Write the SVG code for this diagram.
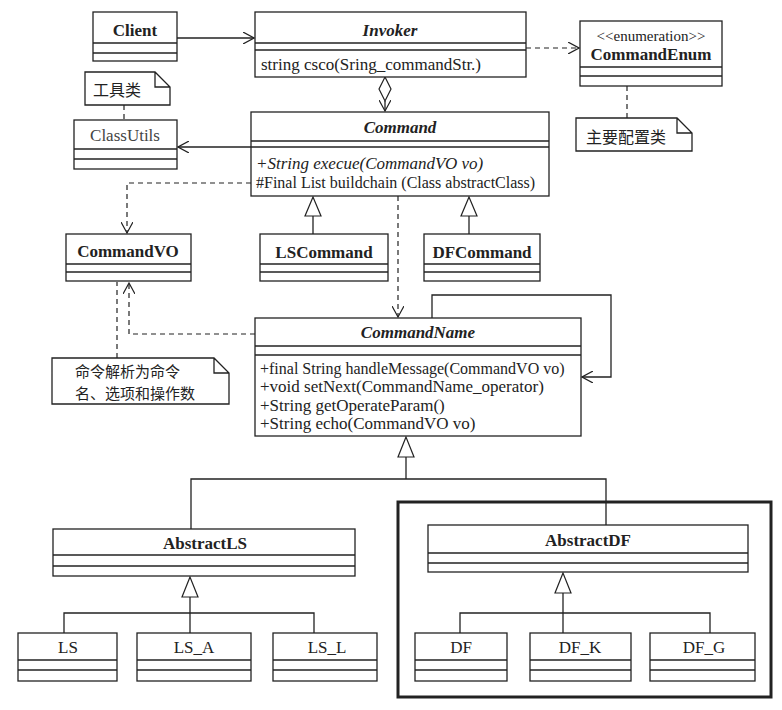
<svg xmlns="http://www.w3.org/2000/svg" width="782" height="710" viewBox="0 0 782 710">
<defs>
<style>
rect{fill:#fff;stroke:#222;stroke-width:1.3}
.l{stroke:#222;stroke-width:1.3;fill:none}
.tri{stroke:#222;stroke-width:1.2;fill:#fff}
.d{stroke:#222;stroke-width:1.2;fill:none;stroke-dasharray:5,4}
text{font-family:"Liberation Serif","Noto Sans CJK SC",serif;font-size:17px;fill:#222}
.b{font-weight:bold;text-anchor:middle}
.i{font-style:italic}
.c{text-anchor:middle}
.n{font-size:16px;font-family:"Noto Sans CJK SC",sans-serif}
.n2{font-size:15px;font-family:"Noto Sans CJK SC",sans-serif}
</style>
<marker id="o" viewBox="0 0 12 12" refX="11" refY="6" markerWidth="12" markerHeight="12" markerUnits="userSpaceOnUse" orient="auto"><path d="M0,0 L11,6 L0,12" fill="none" stroke="#222" stroke-width="1.2"/></marker>
</defs>
<g id="connectors">
<line class="l" x1="177" y1="38" x2="254" y2="38" marker-end="url(#o)"/>
<line class="d" x1="526" y1="48" x2="579" y2="48" marker-end="url(#o)"/>
<path class="tri" d="M385,77 L391,89 L385,101 L379,89 Z"/>
<line class="l" x1="385" y1="101" x2="385" y2="111" marker-end="url(#o)"/>
<line class="l" x1="251" y1="147" x2="178" y2="147" marker-end="url(#o)"/>
<line class="d" x1="124" y1="105" x2="124" y2="120"/>
<line class="d" x1="627" y1="86" x2="627" y2="118"/>
<polyline class="d" points="251,183 127,183 127,233" marker-end="url(#o)"/>
<line class="l" x1="313" y1="216" x2="313" y2="234"/>
<polygon class="tri" points="313,197 305,216 321,216"/>
<line class="l" x1="469" y1="216" x2="469" y2="234"/>
<polygon class="tri" points="469,197 461,216 477,216"/>
<line class="d" x1="398" y1="196" x2="398" y2="317" marker-end="url(#o)"/>
<polyline class="l" points="432,318 432,295 611,295 611,377 582,377" marker-end="url(#o)"/>
<polyline class="d" points="255,334 129,334 129,283" marker-end="url(#o)"/>
<line class="d" x1="117" y1="358" x2="117" y2="282"/>
<polyline class="l" points="191,529 191,479 606,479 606,525"/>
<line class="l" x1="406" y1="479" x2="406" y2="457"/>
<polygon class="tri" points="406,437 398,457 414,457"/>
<polyline class="l" points="64,633 64,613 314,613 314,633"/>
<line class="l" x1="190" y1="633" x2="190" y2="597"/>
<polygon class="tri" points="190,577 182,597 198,597"/>
<polyline class="l" points="460,633 460,613 710,613 710,633"/>
<line class="l" x1="563" y1="633" x2="563" y2="593"/>
<polygon class="tri" points="563,573 555,593 571,593"/>
</g>
<rect x="398" y="502" width="373" height="195" style="fill:none;stroke-width:3"/>
<g id="Client"><rect x="93" y="12" width="84" height="49"/><line class="l" x1="93" y1="43" x2="177" y2="43"/><line class="l" x1="93" y1="53" x2="177" y2="53"/><text x="135" y="36" class="b">Client</text></g>
<g id="Invoker"><rect x="255" y="12" width="271" height="65"/><line class="l" x1="255" y1="43" x2="526" y2="43"/><line class="l" x1="255" y1="50" x2="526" y2="50"/><text x="390" y="36" class="b i">Invoker</text><text x="261" y="70">string csco(Sring_commandStr.)</text></g>
<g id="CommandEnum"><rect x="580" y="21" width="142" height="65"/><line class="l" x1="580" y1="67" x2="722" y2="67"/><line class="l" x1="580" y1="76" x2="722" y2="76"/><text x="651" y="41" class="c" style="font-size:15px">&lt;&lt;enumeration&gt;&gt;</text><text x="651" y="60" class="b">CommandEnum</text></g>
<g id="note1"><path class="l" d="M85,72 L155,72 L170,87 L170,105 L85,105 Z M155,72 L155,87 L170,87" style="fill:#fff"/><text x="93" y="96" class="n">工具类</text></g>
<g id="note2"><path class="l" d="M576,118 L677,118 L692,133 L692,151 L576,151 Z M677,118 L677,133 L692,133" style="fill:#fff"/><text x="586" y="143" class="n">主要配置类</text></g>
<g id="ClassUtils"><rect x="74" y="120" width="103" height="49"/><line class="l" x1="74" y1="149" x2="177" y2="149"/><line class="l" x1="74" y1="159" x2="177" y2="159"/><text x="125" y="141" class="c" style="fill:#444">ClassUtils</text></g>
<g id="Command"><rect x="251" y="112" width="298" height="84"/><line class="l" x1="251" y1="141" x2="549" y2="141"/><line class="l" x1="251" y1="147" x2="549" y2="147"/><text x="400" y="133" class="b i">Command</text><text x="256" y="169" class="i">+String execue(CommandVO vo)</text><text x="256" y="188" style="font-size:16px">#Final List buildchain (Class abstractClass)</text></g>
<g id="CommandVO"><rect x="66" y="234" width="125" height="47"/><line class="l" x1="66" y1="264" x2="191" y2="264"/><line class="l" x1="66" y1="272" x2="191" y2="272"/><text x="128" y="257" class="b">CommandVO</text></g>
<g id="LSCommand"><rect x="260" y="234" width="128" height="47"/><line class="l" x1="260" y1="264" x2="388" y2="264"/><line class="l" x1="260" y1="272" x2="388" y2="272"/><text x="324" y="258" class="b">LSCommand</text></g>
<g id="DFCommand"><rect x="424" y="234" width="116" height="47"/><line class="l" x1="424" y1="264" x2="540" y2="264"/><line class="l" x1="424" y1="272" x2="540" y2="272"/><text x="482" y="258" class="b">DFCommand</text></g>
<g id="CommandName"><rect x="255" y="318" width="326" height="118"/><line class="l" x1="255" y1="346" x2="581" y2="346"/><line class="l" x1="255" y1="355" x2="581" y2="355"/><text x="418" y="338" class="b i">CommandName</text>
<text x="260" y="374" style="font-size:16px">+final String handleMessage(CommandVO vo)</text><text x="260" y="392">+void setNext(CommandName_operator)</text><text x="260" y="411">+String getOperateParam()</text><text x="260" y="429">+String echo(CommandVO vo)</text></g>
<g id="note3"><path class="l" d="M52,358 L214,358 L229,373 L229,404 L52,404 Z M214,358 L214,373 L229,373" style="fill:#fff"/><text x="75" y="377" class="n2">命令解析为命令</text><text x="75" y="399" class="n2">名、选项和操作数</text></g>
<g id="AbstractLS"><rect x="53" y="529" width="302" height="47"/><line class="l" x1="53" y1="555" x2="355" y2="555"/><line class="l" x1="53" y1="566" x2="355" y2="566"/><text x="205" y="549" class="b">AbstractLS</text></g>
<g id="AbstractDF"><rect x="428" y="525" width="320" height="47"/><line class="l" x1="428" y1="553" x2="748" y2="553"/><line class="l" x1="428" y1="563" x2="748" y2="563"/><text x="588" y="546" class="b">AbstractDF</text></g>
<g id="LS"><rect x="18" y="633" width="99" height="48"/><line class="l" x1="18" y1="660" x2="117" y2="660"/><line class="l" x1="18" y1="670" x2="117" y2="670"/><text x="68" y="653" class="c">LS</text></g>
<g id="LS_A"><rect x="137" y="633" width="114" height="48"/><line class="l" x1="137" y1="660" x2="251" y2="660"/><line class="l" x1="137" y1="670" x2="251" y2="670"/><text x="194" y="653" class="c">LS_A</text></g>
<g id="LS_L"><rect x="273" y="633" width="104" height="48"/><line class="l" x1="273" y1="660" x2="377" y2="660"/><line class="l" x1="273" y1="670" x2="377" y2="670"/><text x="327" y="653" class="c">LS_L</text></g>
<g id="DF"><rect x="415" y="633" width="92" height="48"/><line class="l" x1="415" y1="660" x2="507" y2="660"/><line class="l" x1="415" y1="670" x2="507" y2="670"/><text x="461" y="653" class="c">DF</text></g>
<g id="DF_K"><rect x="530" y="633" width="101" height="48"/><line class="l" x1="530" y1="660" x2="631" y2="660"/><line class="l" x1="530" y1="670" x2="631" y2="670"/><text x="580" y="653" class="c">DF_K</text></g>
<g id="DF_G"><rect x="650" y="633" width="105" height="48"/><line class="l" x1="650" y1="660" x2="755" y2="660"/><line class="l" x1="650" y1="670" x2="755" y2="670"/><text x="704" y="653" class="c">DF_G</text></g>
</svg>
